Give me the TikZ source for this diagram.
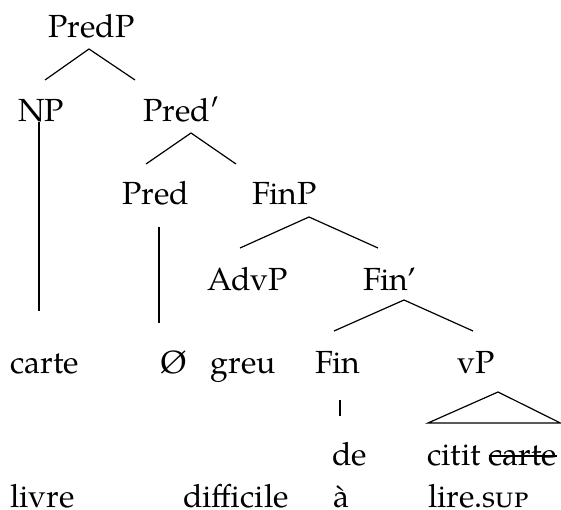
\documentclass[tikz,border=0pt]{standalone}
\usepackage{fontspec}
\setmainfont{TeX Gyre Pagella}
\newcommand{\mystrike}[1]{\setbox0\hbox{#1}\rlap{\rule[0.26em]{\wd0}{0.045em}}\box0}
\begin{document}
\begin{tikzpicture}[x=1pt,y=-1pt,
  lbl/.style={inner sep=0pt, anchor=base west, font=\fontsize{32}{38}\selectfont},
  edge/.style={line width=1.2pt}]
\useasboundingbox (0,0) rectangle (561,510);
% labels
\node[lbl] (predp) at (48,38) {PredP};
\node[lbl] (np) at (18,122) {NP};
\node[lbl] (predbar) at (143,122) {Pred′};
\node[lbl] (pred) at (122,205) {Pred};
\node[lbl] (finp) at (252,205) {FinP};
\node[lbl] (advp) at (207,290) {AdvP};
\node[lbl] (finbar) at (363,290) {Fin’};
\node[lbl] (carte) at (10,373) {carte};
\node[lbl] (null) at (160,373) {Ø};
\node[lbl] (greu) at (210,373) {greu};
\node[lbl] (fin) at (315,373) {Fin};
\node[lbl] (vp) at (457,373) {vP};
\node[lbl] (de) at (332,465) {de};
\node[lbl] (citit) at (427,465) {citit \mystrike{carte}};
\node[lbl] (livre) at (10,507) {livre};
\node[lbl] (difficile) at (183,507) {difficile};
\node[lbl] (a) at (333,507) {à};
\node[lbl] (lire) at (428,507) {lire.\textsc{sup}};
% branch points
\coordinate (predp-t) at (89,49);
\coordinate (np-e) at (45,80);
\coordinate (predbar-e) at (135,80);
\coordinate (predbar-t) at (191,133);
\coordinate (pred-e) at (146,164);
\coordinate (finp-e) at (236,164);
\coordinate (finp-t) at (309,217);
\coordinate (advp-e) at (240,248);
\coordinate (finbar-e) at (378,248);
\coordinate (finbar-t) at (404,300);
\coordinate (fin-e) at (334,331);
\coordinate (vp-e) at (473,331);
\coordinate (np-a) at (39,122);
\coordinate (carte-e) at (39,311);
\coordinate (pred-a) at (159,227);
\coordinate (null-e) at (159,323);
\coordinate (fin-a) at (340,400);
\coordinate (de-e) at (340,416);
\coordinate (vp-t) at (498,392);
\coordinate (vp-l) at (428,423);
\coordinate (vp-r) at (560.4,423);
% edges
\draw[edge] (np-e) -- (predp-t) -- (predbar-e);
\draw[edge] (pred-e) -- (predbar-t) -- (finp-e);
\draw[edge] (advp-e) -- (finp-t) -- (finbar-e);
\draw[edge] (fin-e) -- (finbar-t) -- (vp-e);
\draw[edge] (np-a) -- (carte-e);
\draw[edge] (pred-a) -- (null-e);
\draw[edge] (fin-a) -- (de-e);
\draw[edge] (vp-t) -- (vp-l) -- (vp-r) -- cycle;
\end{tikzpicture}
\end{document}
